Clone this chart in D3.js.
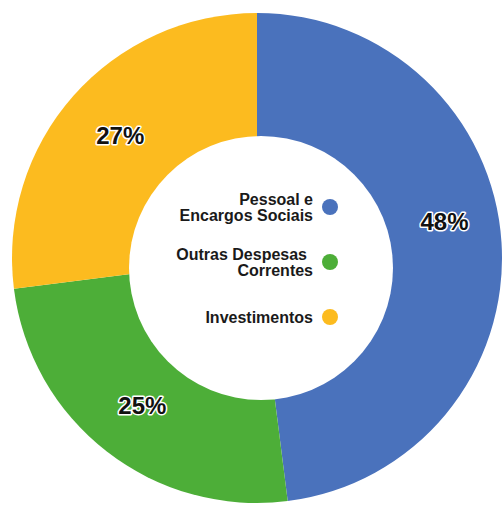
<!DOCTYPE html>
<html>
<head>
<meta charset="utf-8">
<script src="https://cdn.jsdelivr.net/npm/d3@7"></script>
<style>
html,body{margin:0;padding:0;background:#fff;overflow:hidden;}
svg{display:block;}
</style>
</head>
<body>
<svg id="chart" width="502" height="505"></svg>
<script>
const categories = ["Pessoal e Encargos Sociais", "Outras Despesas Correntes", "Investimentos"];
const legendLines = [["Pessoal e", "Encargos Sociais"], ["Outras Despesas", "Correntes"], ["Investimentos"]];
const values = [48, 25, 27];
const percentLabels = ["48%", "25%", "27%"];
const colors = ["#4a72bc", "#4dae38", "#fcbb1f"];

const svg = d3.select("#chart");
const cx = 257, cy = 258, R = 245;

const pie = d3.pie().sort(null).value(d => d)(values);
const arc = d3.arc().innerRadius(0).outerRadius(R);

const g = svg.append("g").attr("transform", `translate(${cx},${cy})`);
g.selectAll("path.slice").data(pie).join("path")
  .attr("class", "slice")
  .attr("d", arc)
  .attr("fill", (d, i) => colors[i]);

// donut hole
svg.append("circle").attr("cx", cx + 4).attr("cy", cy + 10).attr("r", 132).attr("fill", "#fff");

// percentage labels
const angleNudge = [-0.13, 0, 0.01];
g.selectAll("text.pct").data(pie).join("text")
  .attr("class", "pct")
  .attr("transform", (d, i) => {
    const a = (d.startAngle + d.endAngle) / 2 + angleNudge[i];
    const r = i === 0 ? 191 : (i === 1 ? 187 : 184);
    return `translate(${r * Math.sin(a)},${-r * Math.cos(a)})`;
  })
  .attr("text-anchor", "middle")
  .attr("dy", "0.36em")
  .attr("font-family", "Liberation Sans, Arial, sans-serif")
  .attr("font-weight", "bold")
  .attr("font-size", 24)
  .attr("fill", "#111")
  .attr("stroke", "#fff")
  .attr("stroke-width", 3)
  .attr("stroke-linejoin", "round")
  .attr("paint-order", "stroke")
  .text((d, i) => percentLabels[i]);

// legend
const legendY = d3.scalePoint().domain(categories).range([207, 317]);
const leg = svg.append("g").selectAll("g").data(categories).join("g")
  .attr("transform", d => `translate(0,${legendY(d)})`);
leg.append("circle").attr("cx", 330).attr("cy", 0).attr("r", 8)
  .attr("fill", (d, i) => colors[i]);
leg.each(function(d, i) {
  const lines = legendLines[i];
  const lh = 16.5;
  const start = -(lines.length - 1) * lh / 2;
  lines.forEach((ln, j) => {
    d3.select(this).append("text")
      .attr("text-anchor", "end")
      .attr("font-family", "Liberation Sans, Arial, sans-serif")
      .attr("font-weight", "bold")
      .attr("font-size", 16)
      .attr("fill", "#1a1a1a")
      .attr("x", j === 0 && lines.length > 1 && i === 1 ? 307 : 313)
      .attr("y", start + j * lh).attr("dy", "0.36em").text(ln);
  });
});
</script>
</body>
</html>
